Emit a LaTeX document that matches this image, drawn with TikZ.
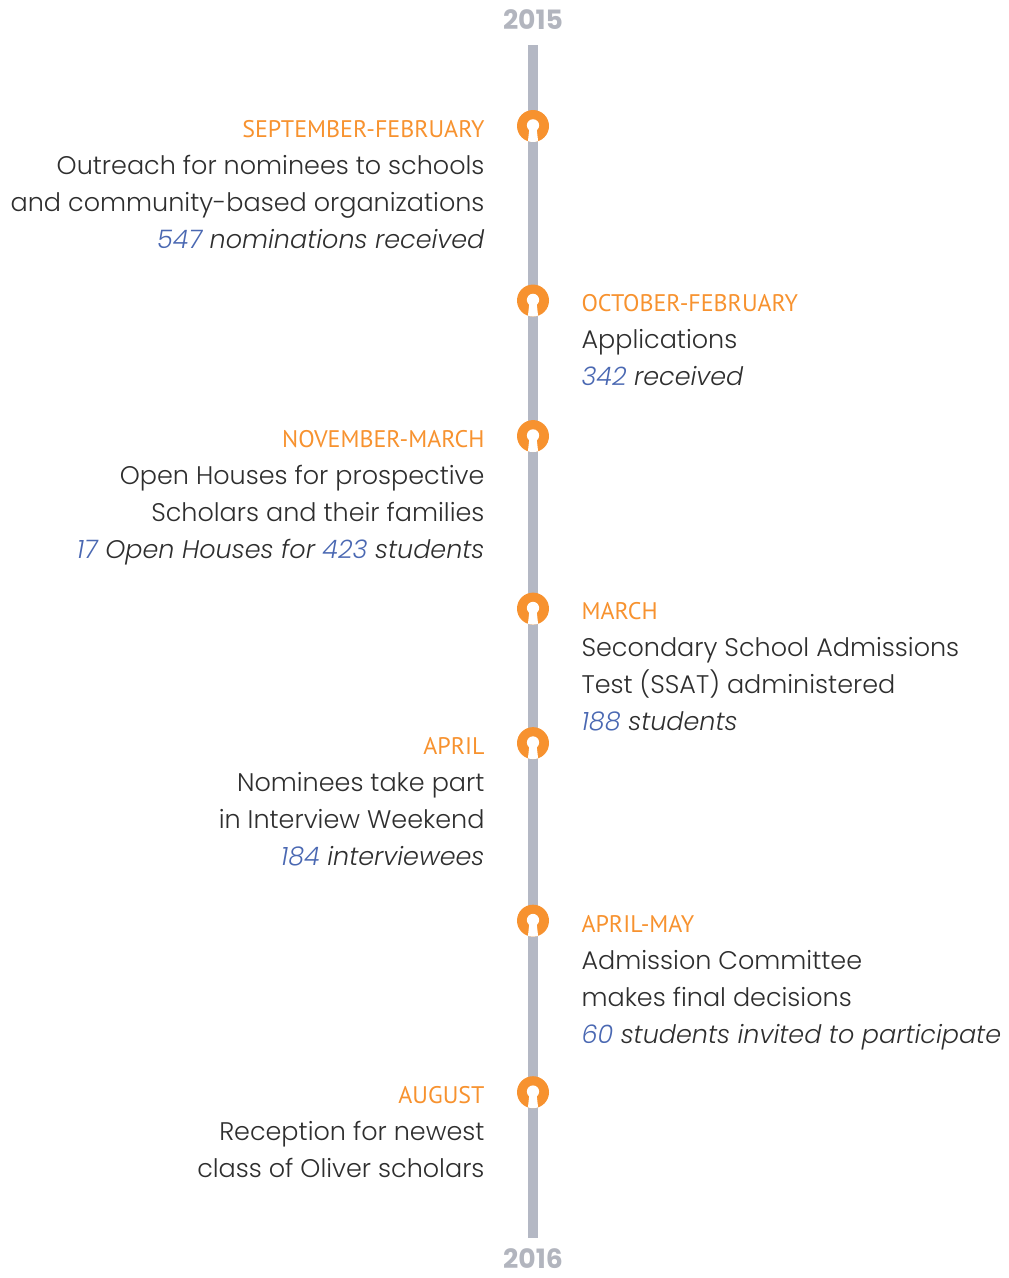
\documentclass[tikz,border=0pt]{standalone}
\usepackage{fontspec}
\setmainfont{Poppins}[UprightFont={* Light}, ItalicFont={* Light Italic}, BoldFont={* Bold}]
\newfontfamily\monthfont{PT Sans}
\usetikzlibrary{positioning}
\definecolor{tlorange}{HTML}{F7922F}
\definecolor{tlblue}{HTML}{4A68B2}
\definecolor{tltext}{HTML}{2E2E2E}
\definecolor{tlbar}{HTML}{B4B8C4}
\definecolor{tlyear}{HTML}{B2B5BE}
\newcommand{\bodysize}{\fontsize{19.1}{27.75}\selectfont}
\newcommand{\monthlbl}[1]{{\monthfont\fontsize{18}{18}\selectfont\color{tlorange}#1}}
\newcommand{\cnt}[1]{{\color{tlblue}#1}}
\tikzset{
  stop/.style={circle, fill=tlorange, minimum size=24pt, inner sep=0pt,
    path picture={
      \fill[white] ([yshift=0.5pt]path picture bounding box.center) circle (4.6pt);
      \fill[white] ([xshift=-2.5pt]path picture bounding box.center) -- ([xshift=2.5pt]path picture bounding box.center)
        -- ([xshift=4pt,yshift=-1pt]path picture bounding box.south) -- ([xshift=-4pt,yshift=-1pt]path picture bounding box.south) -- cycle;}},
  lblock/.style={anchor=north east, yshift=4.5pt, align=right, inner sep=0pt, font=\bodysize, text=tltext},
  rblock/.style={anchor=north west, yshift=4.5pt, align=left, inner sep=0pt, font=\bodysize, text=tltext},
  year/.style={font=\bfseries\fontsize{20}{20}\selectfont, text=tlyear, inner sep=0pt},
  bar/.style={draw=tlbar, line width=7.5pt}
}
\begin{document}
\begin{tikzpicture}[x=0.75pt, y=-0.75pt]
\useasboundingbox (0,0) rectangle (1008,1278);
\node[year] (y15) at (533,20) {2015};
\node[year] (y16) at (533,1259) {2016};
\coordinate (top) at (533,45);
\coordinate (bot) at (533,1238);
\draw[bar] (top) -- (bot);
% stops on the line
\node[stop] (m1) at (533,126) {};
\node[stop] (m2) [below=106.5pt of m1] {};
\node[stop] (m3) [below=77.25pt of m2] {};
\node[stop] (m4) [below=105pt of m3] {};
\node[stop] (m5) [below=76.5pt of m4] {};
\node[stop] (m6) [below=108.75pt of m5] {};
\node[stop] (m7) [below=104.25pt of m6] {};
% events
\node (e1) [left=24pt of m1, lblock] {\monthlbl{SEPTEMBER-FEBRUARY}\\ Outreach for nominees to schools\\ and community-based organizations\\ \textit{\cnt{547} nominations received}};
\node (e2) [right=24pt of m2, rblock] {\monthlbl{OCTOBER-FEBRUARY}\\ Applications\\ \textit{\cnt{342} received}};
\node (e3) [left=24pt of m3, lblock] {\monthlbl{NOVEMBER-MARCH}\\ Open Houses for prospective\\ Scholars and their families\\ \textit{\cnt{17} Open Houses for \cnt{423} students}};
\node (e4) [right=24pt of m4, rblock] {\monthlbl{MARCH}\\ Secondary School Admissions\\ Test (SSAT) administered\\ \textit{\cnt{188} students}};
\node (e5) [left=24pt of m5, lblock] {\monthlbl{APRIL}\\ Nominees take part\\ in Interview Weekend\\ \textit{\cnt{184} interviewees}};
\node (e6) [right=24pt of m6, rblock] {\monthlbl{APRIL-MAY}\\ Admission Committee\\ makes final decisions\\ \textit{\cnt{60} students invited to participate}};
\node (e7) [left=24pt of m7, lblock] {\monthlbl{AUGUST}\\ Reception for newest\\ class of Oliver scholars};
\end{tikzpicture}
\end{document}
